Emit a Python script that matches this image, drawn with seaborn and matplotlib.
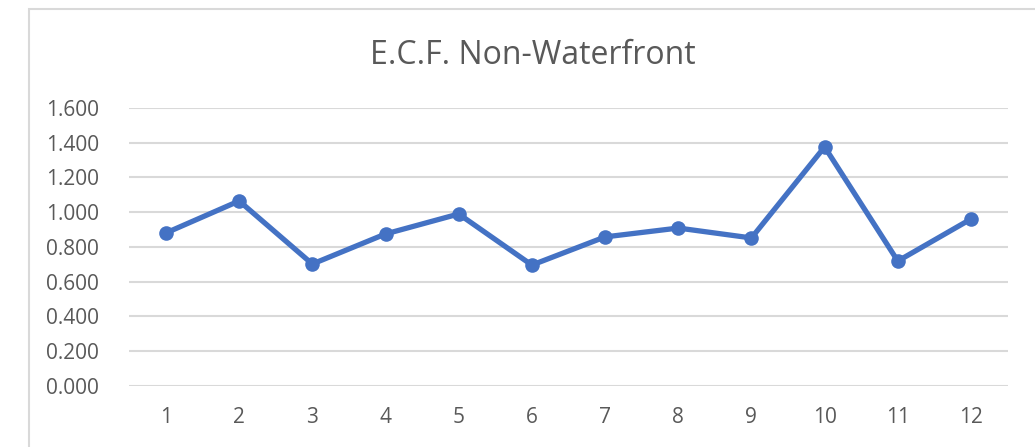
import matplotlib
matplotlib.use("Agg")
import matplotlib.pyplot as plt
import matplotlib.patches as patches
import seaborn as sns
import pandas as pd

# --- Data ---
periods = [1, 2, 3, 4, 5, 6, 7, 8, 9, 10, 11, 12]
ecf_values = [0.881, 1.065, 0.702, 0.875, 0.990, 0.696, 0.858, 0.909, 0.852, 1.376, 0.719, 0.961]
y_ticks = [0.0, 0.2, 0.4, 0.6, 0.8, 1.0, 1.2, 1.4, 1.6]
title = "E.C.F. Non-Waterfront"

df = pd.DataFrame({"period": periods, "ecf": ecf_values})

# --- Style ---
sns.set_style("white")
plt.rcParams["font.family"] = ["Open Sans", "DejaVu Sans"]
text_color = "#595959"
grid_color = "#d9d9d9"
line_color = "#4472c4"

fig = plt.figure(figsize=(10.35, 4.47), dpi=100)
ax = fig.add_axes([0.125, 0.1365, 0.8485, 0.6219])

# chart area border (cropped on right and bottom)
fig.patches.append(patches.Rectangle((29 / 1035, -0.1), 2.0, (447 - 9) / 447 + 0.1,
                                     transform=fig.transFigure, fill=False,
                                     edgecolor=grid_color, linewidth=1.5))

sns.lineplot(data=df, x="period", y="ecf", ax=ax, color=line_color,
             linewidth=3.8, marker="o", markersize=10.5, markeredgewidth=0,
             zorder=3)

ax.set_xlim(0.5, 12.5)
ax.set_ylim(0, 1.6)
ax.set_xticks(periods)
ax.set_xticklabels([str(p) for p in periods])
ax.set_yticks(y_ticks)
ax.set_yticklabels([f"{v:.3f}" for v in y_ticks])
ax.yaxis.grid(True, color=grid_color, linewidth=1.5)
ax.set_axisbelow(True)
for s in ax.spines.values():
    s.set_visible(False)
ax.tick_params(axis="both", length=0, labelsize=15, labelcolor=text_color)
ax.tick_params(axis="y", pad=22)
ax.tick_params(axis="x", pad=15)
ax.set_xlabel("")
ax.set_ylabel("")

fig.text(533, 447 - 56, title, transform=None, ha="center", va="center",
         fontsize=23, color=text_color)

fig.savefig("out.png", dpi=100)
